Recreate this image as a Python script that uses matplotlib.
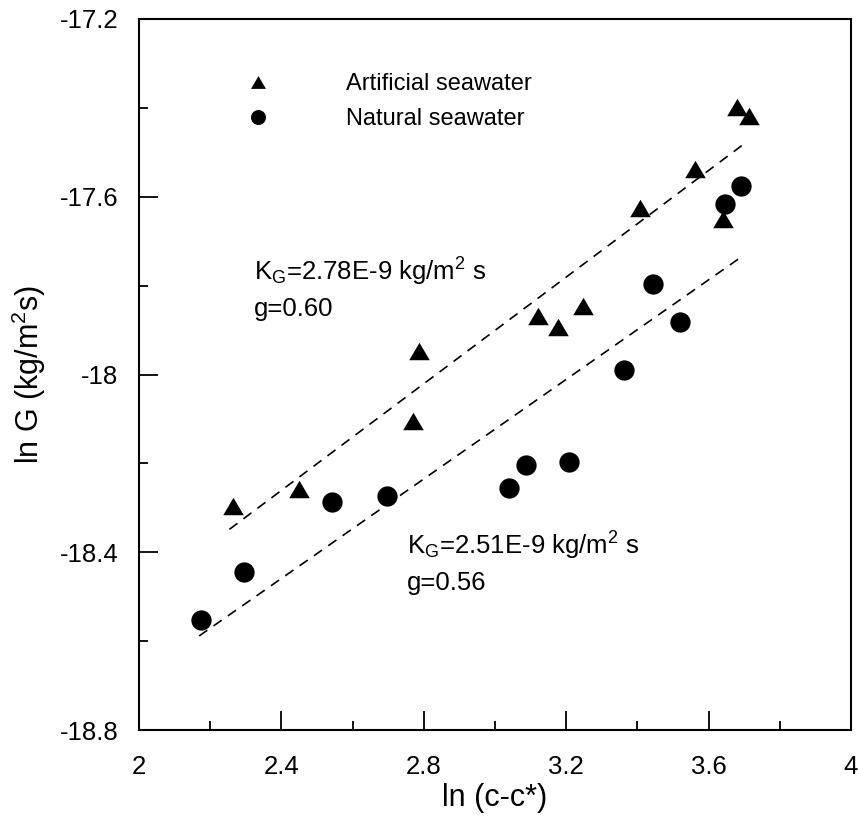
import numpy as np
import matplotlib
matplotlib.use("Agg")
import matplotlib.pyplot as plt
from matplotlib.lines import Line2D
from matplotlib.ticker import FixedLocator

plt.rcParams["font.family"] = ["Liberation Sans", "DejaVu Sans"]
plt.rcParams["mathtext.fontset"] = "custom"
plt.rcParams["mathtext.rm"] = "Liberation Sans"
plt.rcParams["mathtext.it"] = "Liberation Sans"
plt.rcParams["axes.unicode_minus"] = False

# Growth-rate data: ln G against ln supersaturation
art_x = [2.265, 2.449, 2.769, 2.787, 3.122, 3.178, 3.248, 3.407, 3.562, 3.640, 3.681, 3.714]
art_y = [-18.295, -18.258, -18.104, -17.946, -17.868, -17.892, -17.846, -17.626, -17.538, -17.651, -17.397, -17.418]

nat_x = [2.173, 2.296, 2.541, 2.697, 3.040, 3.086, 3.209, 3.363, 3.443, 3.520, 3.647, 3.691]
nat_y = [-18.552, -18.445, -18.288, -18.274, -18.255, -18.204, -18.198, -17.990, -17.796, -17.882, -17.616, -17.576]

# Fitted growth-rate laws G = K_G * (c-c*)^g
kg_art, g_art = 2.78e-9, 0.60
kg_nat, g_nat = 2.51e-9, 0.56
fit_art_range = [2.254, 3.707]
fit_nat_range = [2.169, 3.686]

x_ticks = [2.0, 2.4, 2.8, 3.2, 3.6, 4.0]
x_ticklabels = ["2", "2.4", "2.8", "3.2", "3.6", "4"]
y_ticks = [-18.8, -18.4, -18.0, -17.6, -17.2]
y_ticklabels = ["-18.8", "-18.4", "-18", "-17.6", "-17.2"]
x_minor = [2.2, 2.6, 3.0, 3.4, 3.8]
y_minor = [-18.6, -18.2, -17.8, -17.4]

fig = plt.figure(figsize=(8.58, 8.16), dpi=100)
ax = fig.add_axes([139 / 858, 86 / 816, 712 / 858, 711 / 816])

# flatter, near-equilateral triangle marker
tri = [(-1.0, -0.85), (1.0, -0.85), (0.0, 0.85), (-1.0, -0.85)]

ax.plot(art_x, art_y, linestyle="none", marker=tri, markersize=14.8,
        color="black", markeredgewidth=0, zorder=3)
ax.plot(nat_x, nat_y, linestyle="none", marker="o", markersize=14.6,
        color="black", markeredgewidth=0, zorder=3)

for kg, g, rng in [(kg_art, g_art, fit_art_range), (kg_nat, g_nat, fit_nat_range)]:
    xs = np.array(rng)
    ax.plot(xs, np.log(kg) + g * xs, color="black", linewidth=1.2,
            dashes=(6, 4.5), zorder=2)

ax.set_xlim(2.0, 4.0)
ax.set_ylim(-18.8, -17.2)
ax.set_xticks(x_ticks)
ax.set_xticklabels(x_ticklabels)
ax.set_yticks(y_ticks)
ax.set_yticklabels(y_ticklabels)
ax.xaxis.set_minor_locator(FixedLocator(x_minor))
ax.yaxis.set_minor_locator(FixedLocator(y_minor))

ax.tick_params(which="both", direction="in", top=False, right=False,
               width=1.3, labelsize=18.5, color="black")
ax.tick_params(axis="x", which="major", length=13.5, pad=18)
ax.tick_params(axis="y", which="major", length=13.5, pad=15)
ax.tick_params(which="minor", length=6.8)

for s in ax.spines.values():
    s.set_linewidth(1.5)

ax.set_xlabel("ln (c-c*)", fontsize=22, labelpad=3)
ax.set_ylabel(r"ln G (kg/m$^{2}$s)", fontsize=22, labelpad=8)

ax.text(2.323, -17.868, "K$_{\\mathrm{G}}$=2.78E-9 kg/m$^{2}$ s\ng=0.60",
        fontsize=18.5, ha="left", va="baseline", linespacing=1.45)
ax.text(2.752, -18.485, "K$_{\\mathrm{G}}$=2.51E-9 kg/m$^{2}$ s\ng=0.56",
        fontsize=18.5, ha="left", va="baseline", linespacing=1.45)

handles = [
    Line2D([], [], linestyle="none", marker=tri, markersize=10.8, color="black",
           markeredgewidth=0),
    Line2D([], [], linestyle="none", marker="o", markersize=10.8, color="black",
           markeredgewidth=0),
]
ax.legend(handles, ["Artificial seawater", "Natural seawater"], loc="upper left",
          bbox_to_anchor=(0.150, 0.924), frameon=False, fontsize=17,
          handlelength=1.0, handletextpad=3.26, labelspacing=0.57, borderpad=0,
          borderaxespad=0)

fig.savefig("out.png", dpi=100)
